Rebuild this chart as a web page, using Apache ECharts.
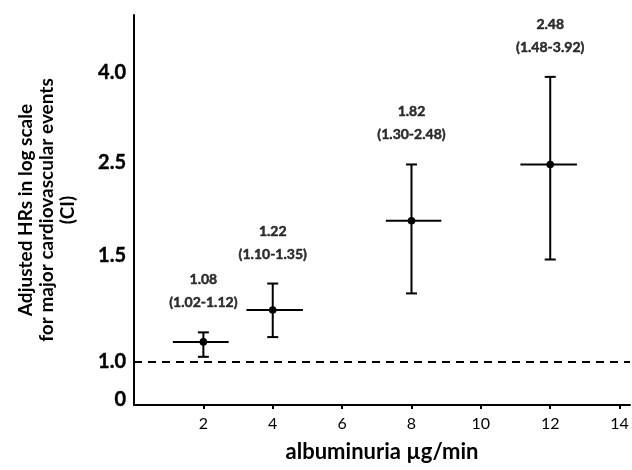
<!DOCTYPE html>
<html><head><meta charset="utf-8">
<script src="https://cdn.jsdelivr.net/npm/echarts@6/dist/echarts.min.js"></script>
<style>html,body{margin:0;padding:0;background:#fff}#c{width:632px;height:470px}</style>
</head><body><div id="c"></div>
<script>
// ---- data ----
const xCenter = [2, 4, 8, 12];
const xLow    = [1.12, 3.24, 7.26, 11.14];
const xHigh   = [2.73, 4.87, 8.86, 12.77];
const hr      = [1.08, 1.22, 1.82, 2.48];
const ciLow   = [1.02, 1.10, 1.30, 1.48];
const ciHigh  = [1.12, 1.35, 2.48, 3.92];
const yTickValues = [0, 1.0, 1.5, 2.5, 4.0];
const yTickLabels = ['0', '1.0', '1.5', '2.5', '4.0'];
const xTickValues = [2, 4, 6, 8, 10, 12, 14];
const refValue = 1.0;

// ---- layout: the drawn (hand-spaced) log axis; slot of each tick above the x axis ----
const yTickSlots = [5, 43, 149, 242, 332];
function yScale(v) {
  const n = yTickValues.length;
  for (let i = 0; i < n - 1; i++) {
    const a = yTickValues[i], b = yTickValues[i + 1];
    if (v <= b || i === n - 2) {
      const t = a > 0 ? (Math.log(v) - Math.log(a)) / (Math.log(b) - Math.log(a)) : (v - a) / (b - a);
      return yTickSlots[i] + t * (yTickSlots[i + 1] - yTickSlots[i]);
    }
  }
}
const fmt = v => v.toFixed(2);
const FONT = 'Lato, "Open Sans", sans-serif';
const annStyle = {
  color: '#000', fontSize: 14, fontWeight: 'bold', fontFamily: FONT, lineHeight: 23, align: 'center',
  textBorderColor: '#000', textBorderWidth: 0.5
};

const barData = xCenter.map((x, i) => [x, xLow[i], xHigh[i], yScale(hr[i]), yScale(ciLow[i]), yScale(ciHigh[i])]);
const labelData = xCenter.map((x, i) => ({
  value: [x, yScale(ciHigh[i])],
  label: Object.assign({
    show: true, position: 'top', distance: 18,
    formatter: fmt(hr[i]) + '\n(' + fmt(ciLow[i]) + '-' + fmt(ciHigh[i]) + ')'
  }, annStyle)
}));

const chart = echarts.init(document.getElementById('c'), null, { renderer: 'canvas' });
chart.setOption({
  animation: false,
  backgroundColor: '#fff',
  grid: { left: 134, top: 15, width: 496, height: 390 },
  xAxis: {
    type: 'value', min: 0, max: 14.3,
    axisLine: { show: true, onZero: false, lineStyle: { color: '#000', width: 2 } },
    axisTick: { show: true, length: 4, customValues: xTickValues, lineStyle: { color: '#000', width: 2 } },
    axisLabel: { customValues: xTickValues, color: '#000', fontSize: 16, fontFamily: FONT, margin: 11 },
    splitLine: { show: false },
    name: 'albuminuria µg/min', nameLocation: 'middle', nameGap: 36,
    nameTextStyle: { color: '#000', fontSize: 22, fontWeight: 'bold', fontFamily: FONT }
  },
  yAxis: {
    type: 'value', min: 0, max: 390,
    axisLine: { show: true, lineStyle: { color: '#000', width: 2 } },
    axisTick: { show: false },
    axisLabel: {
      customValues: yTickSlots, color: '#000', fontSize: 20, fontWeight: 'bold', fontFamily: FONT, margin: 8,
      textBorderColor: '#000', textBorderWidth: 0.4,
      formatter: v => { const i = yTickSlots.indexOf(v); return i >= 0 ? yTickLabels[i] : ''; }
    },
    splitLine: { show: false },
    name: 'Adjusted HRs in log scale\nfor major cardiovascular events\n(CI)',
    nameLocation: 'middle', nameRotate: 90, nameGap: 56,
    nameTextStyle: { color: '#000', fontSize: 19, fontWeight: 'bold', fontFamily: FONT, lineHeight: 21, align: 'center' }
  },
  series: [
    {
      type: 'custom',
      data: barData,
      renderItem: (params, api) => {
        const c = api.coord([api.value(0), api.value(3)]);
        const l = api.coord([api.value(1), api.value(3)]);
        const r = api.coord([api.value(2), api.value(3)]);
        const lo = api.coord([api.value(0), api.value(4)]);
        const hi = api.coord([api.value(0), api.value(5)]);
        const cap = 5.5;
        const st = { stroke: '#000', lineWidth: 2 };
        return {
          type: 'group',
          children: [
            { type: 'line', shape: { x1: l[0], y1: l[1], x2: r[0], y2: r[1] }, style: st },
            { type: 'line', shape: { x1: lo[0], y1: lo[1], x2: hi[0], y2: hi[1] }, style: st },
            { type: 'line', shape: { x1: lo[0] - cap, y1: lo[1], x2: lo[0] + cap, y2: lo[1] }, style: st },
            { type: 'line', shape: { x1: hi[0] - cap, y1: hi[1], x2: hi[0] + cap, y2: hi[1] }, style: st },
            { type: 'circle', shape: { cx: c[0], cy: c[1], r: 3.8 }, style: { fill: '#000' } }
          ]
        };
      },
      markLine: {
        silent: true, symbol: 'none',
        label: { show: false },
        lineStyle: { color: '#000', width: 2, type: [8, 6] },
        data: [{ yAxis: yScale(refValue) }]
      },
      z: 3
    },
    {
      type: 'scatter',
      data: labelData,
      symbolSize: 0,
      label: Object.assign({ show: true, position: 'top', distance: 18 }, annStyle),
      z: 4
    }
  ]
});
</script></body></html>
